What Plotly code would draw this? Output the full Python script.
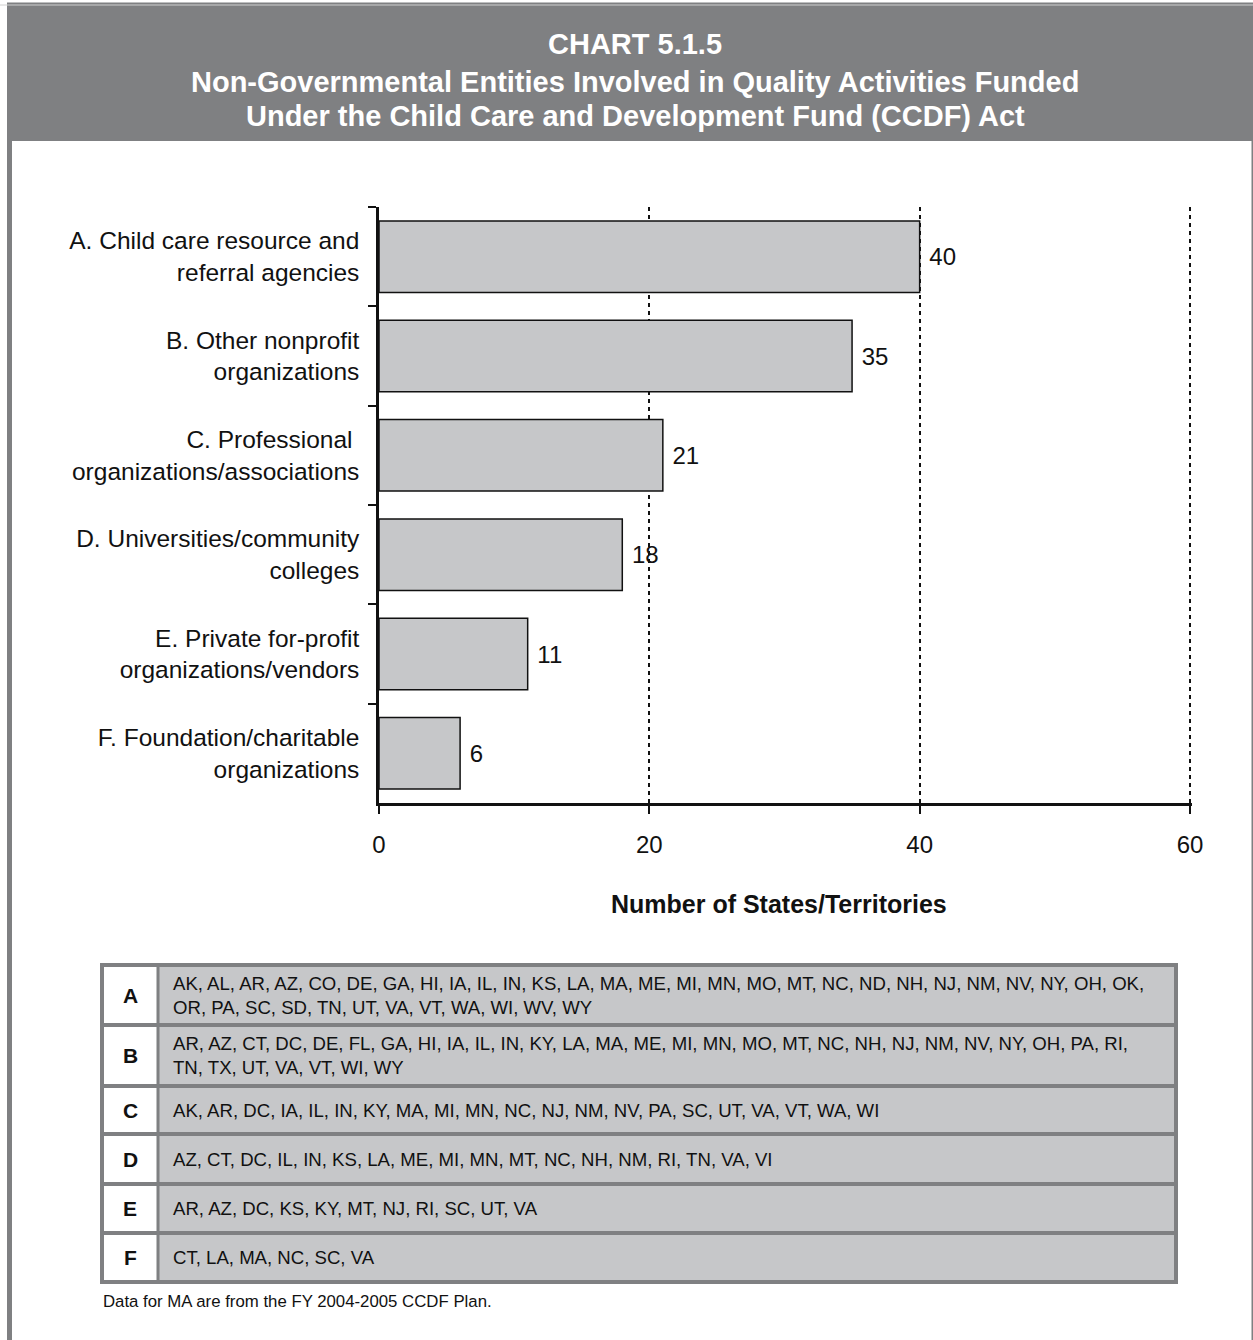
import plotly.graph_objects as go

# ---------------- data ----------------
categories = [
    "A. Child care resource and<br>referral agencies",
    "B. Other nonprofit<br>organizations",
    "C. Professional <br>organizations/associations",
    "D. Universities/community<br>colleges",
    "E. Private for-profit<br>organizations/vendors",
    "F. Foundation/charitable<br>organizations",
]
values = [40, 35, 21, 18, 11, 6]
x_ticks = [0, 20, 40, 60]

table_letters = ["A", "B", "C", "D", "E", "F"]
table_states = [
    "AK, AL, AR, AZ, CO, DE, GA, HI, IA, IL, IN, KS, LA, MA, ME, MI, MN, MO, MT, NC, ND, NH, NJ, NM, NV, NY, OH, OK,<br>OR, PA, SC, SD, TN, UT, VA, VT, WA, WI, WV, WY",
    "AR, AZ, CT, DC, DE, FL, GA, HI, IA, IL, IN, KY, LA, MA, ME, MI, MN, MO, MT, NC, NH, NJ, NM, NV, NY, OH, PA, RI,<br>TN, TX, UT, VA, VT, WI, WY",
    "AK, AR, DC, IA, IL, IN, KY, MA, MI, MN, NC, NJ, NM, NV, PA, SC, UT, VA, VT, WA, WI",
    "AZ, CT, DC, IL, IN, KS, LA, ME, MI, MN, MT, NC, NH, NM, RI, TN, VA, VI",
    "AR, AZ, DC, KS, KY, MT, NJ, RI, SC, UT, VA",
    "CT, LA, MA, NC, SC, VA",
]
title_lines = [
    "CHART 5.1.5",
    "Non-Governmental Entities Involved in Quality Activities Funded",
    "Under the Child Care and Development Fund (CCDF) Act",
]
x_title = "Number of States/Territories"
footnote = "Data for MA are from the FY 2004-2005 CCDF Plan."

# ---------------- layout geometry ----------------
W, H = 1253, 1340
X_MAX = 60.15                       # a hair past 60 so the 60 gridline is drawn
L, T, B = 379, 207, 803
PW = round((1190 - L) * X_MAX / 60)
R = L + PW
PH = B - T

def px(x):
    return (x - L) / PW

def py(y):
    return (B - y) / PH

FONT = "Arial, Liberation Sans, sans-serif"
GRAY = "#7f8082"
LIGHT = "#c6c7c9"
INK = "#111111"

fig = go.Figure()
fig.add_trace(go.Bar(
    x=values, y=categories, orientation="h",
    marker=dict(color=LIGHT, line=dict(color=INK, width=1.5)),
    text=values, texttemplate=" %{x}", textposition="outside",
    textfont=dict(family=FONT, size=24, color=INK),
    cliponaxis=False, hoverinfo="skip",
))

shapes = []
annotations = []

# page frame + header
shapes.append(dict(type="rect", xref="paper", yref="paper",
                   x0=px(9.5), x1=px(1254), y0=py(1345), y1=py(5),
                   line=dict(color=GRAY, width=5), fillcolor="rgba(0,0,0,0)", layer="below"))
shapes.append(dict(type="line", xref="paper", yref="paper",
                   x0=px(0), x1=px(1253), y0=py(5), y1=py(5),
                   line=dict(color="#d0d0d0", width=1), layer="below"))
shapes.append(dict(type="rect", xref="paper", yref="paper",
                   x0=px(7), x1=px(1253), y0=py(141), y1=py(6),
                   line=dict(width=0), fillcolor=GRAY, layer="below"))
for txt, yc in zip(title_lines, [44, 82, 116]):
    annotations.append(dict(text="<b>%s</b>" % txt, xref="paper", yref="paper",
                            x=px(635), y=py(yc), xanchor="center", yanchor="middle",
                            showarrow=False, font=dict(family=FONT, size=29, color="white")))

# x-axis title
annotations.append(dict(text="<b>%s</b>" % x_title, xref="paper", yref="paper",
                        x=px(779), y=py(904), xanchor="center", yanchor="middle",
                        showarrow=False, font=dict(family=FONT, size=25, color=INK)))

# table
row_edges = [965, 1025, 1086, 1134, 1184, 1233, 1282]
tx0, tx1, tdiv = 102, 1176, 158
shapes.append(dict(type="rect", xref="paper", yref="paper",
                   x0=px(tx0), x1=px(tx1), y0=py(row_edges[-1]), y1=py(row_edges[0]),
                   line=dict(width=0), fillcolor=LIGHT, layer="above"))
shapes.append(dict(type="rect", xref="paper", yref="paper",
                   x0=px(tx0), x1=px(tdiv), y0=py(row_edges[-1]), y1=py(row_edges[0]),
                   line=dict(width=0), fillcolor="white", layer="above"))
for ye in row_edges[1:-1]:
    shapes.append(dict(type="line", xref="paper", yref="paper",
                       x0=px(tx0), x1=px(tx1), y0=py(ye), y1=py(ye),
                       line=dict(color=GRAY, width=4), layer="above"))
shapes.append(dict(type="line", xref="paper", yref="paper",
                   x0=px(tdiv), x1=px(tdiv), y0=py(row_edges[-1]), y1=py(row_edges[0]),
                   line=dict(color=GRAY, width=3), layer="above"))
shapes.append(dict(type="rect", xref="paper", yref="paper",
                   x0=px(tx0), x1=px(tx1), y0=py(row_edges[-1]), y1=py(row_edges[0]),
                   line=dict(color=GRAY, width=4), fillcolor="rgba(0,0,0,0)", layer="above"))
for i, (let, st) in enumerate(zip(table_letters, table_states)):
    yc = (row_edges[i] + row_edges[i + 1]) / 2
    annotations.append(dict(text="<b>%s</b>" % let, xref="paper", yref="paper",
                            x=px(130), y=py(yc), xanchor="center", yanchor="middle",
                            showarrow=False, font=dict(family=FONT, size=21, color=INK)))
    annotations.append(dict(text=st, xref="paper", yref="paper",
                            x=px(171), y=py(yc), xanchor="left", yanchor="middle", align="left",
                            showarrow=False, font=dict(family=FONT, size=18.6, color=INK)))

annotations.append(dict(text=footnote, xref="paper", yref="paper",
                        x=px(101), y=py(1301), xanchor="left", yanchor="middle",
                        showarrow=False, font=dict(family=FONT, size=16.8, color=INK)))

fig.update_layout(
    width=W, height=H,
    margin=dict(l=L, r=W - R, t=T, b=H - B, pad=0),
    paper_bgcolor="white", plot_bgcolor="white",
    showlegend=False, bargap=0.28,
    font=dict(family=FONT, color=INK),
    shapes=shapes, annotations=annotations,
    xaxis=dict(range=[0, X_MAX], tickvals=x_ticks, showgrid=True,
               gridcolor=INK, gridwidth=2, griddash="4px,4px",
               zeroline=False, showline=True, linecolor=INK, linewidth=2.5,
               ticks="outside", ticklen=8, tickwidth=2, tickcolor=INK,
               tickfont=dict(family=FONT, size=24, color=INK),
               ticklabelstandoff=10),
    yaxis=dict(type="category", autorange="reversed", showgrid=False, zeroline=False,
               showline=True, linecolor=INK, linewidth=2.5,
               ticks="outside", ticklen=8, tickwidth=2, tickcolor=INK,
               tickson="boundaries",
               tickfont=dict(family=FONT, size=24.5, color=INK),
               ticklabelstandoff=12),
)

fig.write_html("out.html")
